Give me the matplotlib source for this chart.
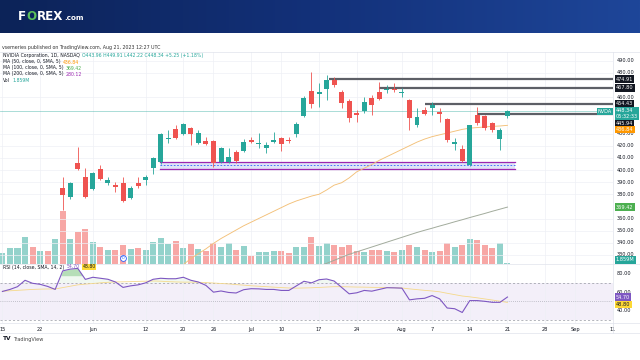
import matplotlib.pyplot as plt
from matplotlib import transforms
from matplotlib.colors import LinearSegmentedColormap
import numpy as np

W, H = 640, 360

# bar index 0 = 22 May 2023, one step per trading day
candle_start = 3
opens = [385.2, 377.7, 405.8, 394.2, 384.3, 400.8, 389.3, 387.6, 389.3, 376.9,
         389.3, 391.8, 401.7, 406.6, 425.6, 433.8, 429.7, 434.6, 422.3, 423.9,
         423.9, 406.6, 406.6, 414.8, 415.7, 424.7, 421.4, 418.1, 423.1, 426.4,
         424.7, 429.7, 444.5, 465.2, 462.7, 466.8, 474.2, 464.3, 456.9, 447.0,
         448.7, 459.4, 464.3, 466.0, 466.8, 463.5, 457.7, 437.1, 449.5, 451.1,
         447.8, 442.1, 421.4, 417.3, 404.1, 445.4, 444.5, 438.8, 425.6, 444.5]
highs = [394.2, 390.1, 419.0, 401.7, 398.4, 404.1, 394.2, 390.1, 394.2, 386.8,
         394.2, 395.9, 410.7, 430.5, 433.0, 437.1, 438.8, 435.5, 433.0, 427.2,
         424.7, 419.0, 418.1, 416.5, 425.6, 427.2, 430.5, 423.1, 431.3, 427.2,
         427.2, 439.6, 461.0, 480.8, 471.8, 478.4, 476.7, 466.0, 458.6, 449.5,
         460.2, 461.9, 472.6, 470.1, 471.8, 467.6, 458.6, 451.1, 452.0, 456.1,
         451.1, 442.9, 426.4, 420.6, 437.1, 452.0, 445.4, 439.6, 434.6, 449.5]
lows = [367.0, 376.1, 400.0, 376.9, 383.5, 391.8, 387.6, 381.9, 373.6, 376.1,
        385.2, 387.6, 396.7, 405.0, 422.3, 425.6, 428.9, 420.6, 421.4, 420.6,
        402.5, 405.8, 405.8, 405.8, 414.8, 422.3, 418.1, 414.0, 422.3, 415.7,
        422.3, 427.2, 443.7, 451.1, 452.0, 457.7, 468.5, 451.1, 439.6, 439.6,
        447.0, 445.4, 457.7, 463.5, 464.3, 460.2, 433.0, 435.5, 445.4, 445.4,
        439.6, 423.1, 416.5, 406.6, 403.3, 437.1, 433.0, 431.3, 416.5, 442.9]
closes = [379.4, 389.3, 400.8, 377.7, 397.5, 392.6, 391.8, 386.0, 374.4, 385.2,
          386.8, 394.2, 409.9, 429.7, 426.4, 426.4, 437.9, 429.7, 430.5, 421.4,
          405.8, 418.1, 410.7, 407.4, 423.1, 423.1, 422.3, 420.6, 424.7, 421.4,
          423.9, 437.9, 459.4, 454.4, 464.3, 474.2, 470.1, 455.3, 442.9, 445.4,
          456.1, 453.6, 458.6, 466.8, 466.0, 464.3, 442.9, 443.7, 446.2, 453.6,
          446.2, 424.7, 423.1, 407.4, 437.1, 438.8, 434.6, 433.0, 433.0, 448.34]

# volume (millions) and RSI start five bars earlier, under the visible candles
series_start = -5
volumes = [32, 47, 46, 77, 50, 39, 39, 73, 155, 73, 94, 102, 65, 50, 41, 41, 54, 44,
           46, 41, 63, 76, 59, 68, 47, 58, 44, 38, 62, 49, 61, 41, 53, 23, 35, 34,
           39, 38, 33, 50, 50, 79, 53, 60, 55, 48, 55, 38, 36, 40, 42, 38, 34, 40,
           55, 48, 41, 34, 38, 62, 50, 56, 72, 70, 54, 47, 62, 1.859]
early_up = [1, 1, 1, 1, 0, 1, 0, 1]
rsi = [60.8, 63, 66, 73, 69.7, 68.6, 66.3, 63, 83.3, 85.2, 86, 74, 76.3, 75.2, 74.1,
       71.1, 65.2, 66.9, 68, 70.2, 74.1, 75.2, 74.7, 74.7, 76.3, 73, 71.1, 67.4, 60,
       61.3, 59.7, 59.1, 62.7, 63.8, 63.6, 63, 63, 61.9, 61.9, 66.9, 71.9, 70.2, 73.6,
       74.4, 72.2, 65.2, 58.2, 59.3, 61.9, 61.1, 63, 64.9, 64.7, 64.4, 51.6, 52.7,
       53.3, 56.3, 52.7, 42.7, 41.9, 37.8, 50.8, 50.8, 50, 48.9, 48.9, 54.7]
rsi_ma = [61, 61.5, 62, 62.5, 63, 63.3, 63.5, 63.5, 65, 66.5, 68, 68.8, 69.5, 70.2,
          70.8, 71.2, 71.3, 71.5, 71.8, 72, 72.2, 72, 71.5, 71.2, 71, 71, 70.8, 70.5,
          70, 69.5, 69, 68.3, 67.7, 67, 66.5, 66, 65.5, 65, 64.6, 64.4, 64.6, 64.8,
          65.2, 65.6, 66, 66, 65.8, 65.6, 65.5, 65.3, 65.2, 65, 64.8, 64.6, 63.6, 62.8,
          62, 61.3, 60.4, 58.8, 57.3, 55.8, 54.9, 53.8, 52.6, 51.4, 50.1, 48.8]

ma50_start = 19
ma50 = [322, 327, 331, 335, 339.5, 343.5, 347, 350.5, 354, 357, 360, 363, 366, 369,
        372, 374.5, 376.5, 378.5, 380, 383.5, 387.5, 389.5, 393.5, 398.5, 401.5, 404.5,
        408, 411, 414, 417, 420, 423, 425.5, 427.5, 429, 430.5, 432, 433.5, 434.5,
        435, 435.5, 436, 436.3, 436.84]
ma100_start = 37
ma100 = [321, 323, 325.5, 328, 330.5, 332.5, 334.5, 336.5, 338.5, 340.5, 342.5,
         344.5, 346.5, 348.5, 350.3, 352, 353.8, 355.5, 357.3, 359, 360.8, 362.5,
         364.2, 366, 367.7, 369.42]

levels = [474.91, 467.80, 454.43, 445.94]
level_from = [38.3, 45, 51, 58]
zone_low, zone_high = 401.0, 407.0
zone_from, zone_to = 15.9, 63
dividend_bar = 11

tick_bars = [-5, 0, 7, 14, 19, 23, 28, 32, 37, 42, 48, 52, 57, 62, 67, 71, 76]
tick_labels = ['15', '22', 'Jun', '12', '20', '26', 'Jul', '10', '17', '24', 'Aug',
               '7', '14', '21', '28', 'Sep', '11']
price_ticks = [330, 340, 350, 360, 380, 390, 400, 410, 420, 430, 460, 480, 490]
rsi_ticks = [40, 60, 80]

UP, DN = '#26a69a', '#ef5350'
TXT = '#131722'
fs = 3.6


def fx(px):
    return px / W


def fy(py):
    return 1 - py / H


fig = plt.figure(figsize=(6.4, 3.6), dpi=100)
fig.patch.set_facecolor('white')
renderer = fig.canvas.get_renderer()


def chain(px, py, parts, size, gap=0.0, weight='normal'):
    # lay text pieces side by side, each starting where the previous ended
    x = px
    for s, col, bg in parts:
        kw = {}
        if bg:
            kw['bbox'] = dict(boxstyle='square,pad=0.12', fc=bg, ec='none')
        t = fig.text(fx(x), fy(py), s, fontsize=size, color=col, va='center',
                     fontweight=weight, **kw)
        x += t.get_window_extent(renderer).width + gap
    return x


# FOREX.com banner
ban = fig.add_axes([0, fy(33), 1, 33 / H])
cmap = LinearSegmentedColormap.from_list('ban', ['#0c2358', '#13317a', '#1e4699'])
ban.imshow(np.linspace(0, 1, 256)[None, :], aspect='auto', cmap=cmap, extent=[0, 1, 0, 1])
ban.set_axis_off()
end = chain(18, 17, [('F', 'white', None), ('O', '#5cc05a', None), ('REX', 'white', None)],
            8.6, gap=0.3, weight='bold')
chain(end + 1, 17.5, [('.com', 'white', None)], 5.2, weight='bold')

fig.text(fx(2), fy(47), 'vsemeries published on TradingView.com, Aug 21, 2023 12:27 UTC',
         fontsize=3.4, color='#333333', va='center')

# panes
main_rect = [0, fy(264), fx(613), (264 - 52) / H]
axv = fig.add_axes(main_rect)
ax = fig.add_axes(main_rect, sharex=axv)
ax.patch.set_alpha(0)
axr = fig.add_axes([0, fy(323), fx(613), (323 - 264) / H], sharex=axv)

xmin, xmax = -5.32, 76.0
n_all = len(volumes)
x_all = np.arange(series_start, series_start + n_all)
x_c = np.arange(candle_start, candle_start + len(opens))
o, h, l, c = map(np.array, (opens, highs, lows, closes))
up_c = c >= o

# volume
vol_up = np.concatenate([np.array(early_up, bool), up_c])
vcol = np.where(vol_up, '#93d2cb', '#f7a7a5')
axv.bar(x_all, volumes, width=0.8, color=vcol, zorder=1)
axv.set_ylim(0, 615)
axv.set_xlim(xmin, xmax)
axv.set_xticks(tick_bars)
axv.grid(axis='x', color='#eef0f5', lw=0.5)
axv.set_yticks([])
axv.tick_params(length=0, labelbottom=False)
for sp in axv.spines.values():
    sp.set_visible(False)

# price pane
ax.set_ylim(322.5, 497.3)
ax.set_yticks(price_ticks)
ax.grid(axis='y', color='#eef0f5', lw=0.5)
ax.tick_params(length=0, labelbottom=False, labelleft=False)
for sp in ax.spines.values():
    sp.set_visible(False)

ax.axhline(closes[-1], color=UP, lw=0.6, alpha=0.45, zorder=2)

zx = [zone_from, zone_to]
ax.fill_between(zx, zone_low, zone_high, color='#c3c9f0', alpha=0.5, lw=0, zorder=2)
ax.plot(zx, [zone_low] * 2, color='#9c27b0', lw=0.9, zorder=3)
ax.plot(zx, [zone_high] * 2, color='#9c27b0', lw=0.9, zorder=3)
ax.plot(zx, [(zone_low + zone_high) / 2] * 2, color='#2962ff', lw=0.6, ls=(0, (2, 2)), zorder=3)

ax.plot(np.arange(ma50_start, ma50_start + len(ma50)), ma50, color='#f3c078', lw=0.65, zorder=3)
ax.plot(np.arange(ma100_start, ma100_start + len(ma100)), ma100, color='#a2ab9c', lw=0.7, zorder=3)

for lv, x0 in zip(levels, level_from):
    ax.plot([x0, xmax], [lv, lv], color='#5d5f66', lw=1.6, solid_capstyle='butt', zorder=4)

ccol = np.where(up_c, UP, DN)
ax.vlines(x_c, l, h, colors=ccol, lw=0.6, zorder=5)
body = np.maximum(np.abs(c - o), 0.7)
ax.bar(x_c, body, bottom=np.minimum(o, c), width=0.66, color=ccol, zorder=6)

# dividend marker
ax.plot([dividend_bar], [0.028], transform=ax.get_xaxis_transform(), marker='o', ms=4.2,
        mfc='white', mec='#2962ff', mew=0.6, zorder=7)
ax.text(dividend_bar, 0.028, 'D', transform=ax.get_xaxis_transform(), fontsize=2.4,
        color='#2962ff', ha='center', va='center', zorder=8)

# right price scale
yt = ax.get_yaxis_transform()
for v in price_ticks:
    ax.text(1.0065, v, f'{v:.2f}', transform=yt, fontsize=fs, color=TXT, va='center', clip_on=False)


def tag(axis, val, text, bg, fg='white', dy=0):
    tr = transforms.offset_copy(axis.get_yaxis_transform(), fig=fig, y=dy, units='dots')
    axis.text(1.0045, val, text, transform=tr, fontsize=fs, color=fg, va='center', ha='left',
              clip_on=False, zorder=10,
              bbox=dict(boxstyle='square,pad=0.25', fc=bg, ec='none'))


for lv in levels[:3]:
    tag(ax, lv, f'{lv:.2f}', '#131722')
tag(ax, closes[-1], f'{closes[-1]:.2f}\n05:32:33', UP, dy=-2)
tag(ax, levels[3], f'{levels[3]:.2f}', '#131722', dy=-9)
tag(ax, ma50[-1], f'{ma50[-1]:.2f}', '#ff9800', dy=-4)
tag(ax, ma100[-1], f'{ma100[-1]:.2f}', '#4caf50')
ax.text(0.9985, closes[-1], 'NVDA', transform=yt, fontsize=fs, color='white', ha='right',
        va='center', zorder=10, bbox=dict(boxstyle='square,pad=0.25', fc=UP, ec='none'))
axv.text(1.0045, 12, '1.859M', transform=axv.get_yaxis_transform(), fontsize=fs, color='white',
         va='center', clip_on=False, bbox=dict(boxstyle='square,pad=0.25', fc=UP, ec='none'))

# legend rows
rows = [
    ('NVIDIA Corporation, 1D, NASDAQ', 'O443.96 H449.91 L442.22 C448.34 +5.25 (+1.18%)', UP),
    ('MA (50, close, 0, SMA, 5)', '436.84', '#ff9800'),
    ('MA (100, close, 0, SMA, 5)', '369.42', '#4caf50'),
    ('MA (200, close, 0, SMA, 5)', '280.12', '#9c27b0'),
    ('Vol', '1.859M', UP),
]
for k, (lab, val, col) in enumerate(rows):
    chain(3, 56 + 6 * k, [(lab, TXT, None), (val, col, None)], 3.3, gap=2.5)

# RSI pane
xr = np.arange(series_start, series_start + len(rsi))
r = np.array(rsi)
axr.axhspan(30, 70, color='#7e57c2', alpha=0.09, lw=0)
for lv, st in [(70, (0, (3, 3))), (50, (0, (1, 2))), (30, (0, (3, 3)))]:
    axr.axhline(lv, color='#9598a1', lw=0.5, ls=st)
axr.fill_between(xr, 70, r, where=r > 70, interpolate=True, color='#4caf50', alpha=0.08, lw=0)
axr.fill_between(xr, 78, r, where=r > 78, interpolate=True, color='#4caf50', alpha=0.35, lw=0)
axr.plot(xr, rsi_ma, color='#f5d98a', lw=0.6)
axr.plot(xr, r, color='#7e57c2', lw=0.8)
axr.set_ylim(26.3, 90.8)
axr.set_xlim(xmin, xmax)
axr.set_yticks([])
axr.set_xticks(tick_bars)
axr.set_xticklabels(tick_labels, fontsize=fs, color=TXT)
axr.tick_params(length=0, pad=3)
axr.grid(axis='x', color='#eef0f5', lw=0.5)
for sp in axr.spines.values():
    sp.set_visible(False)
yr = axr.get_yaxis_transform()
for v in rsi_ticks:
    axr.text(1.0065, v, f'{v:.2f}', transform=yr, fontsize=fs, color=TXT, va='center', clip_on=False)
tag(axr, rsi[-1], f'{rsi[-1]:.2f}', '#7e57c2')
tag(axr, rsi_ma[-1], f'{rsi_ma[-1]:.2f}', '#fdd835', fg=TXT, dy=-2)

chain(3, 267, [('RSI (14, close, SMA, 14, 2)', TXT, None), (f'{rsi[-1]:.2f}', '#7e57c2', None),
               (f'{rsi_ma[-1]:.2f}', TXT, '#fdd835')], 3.3, gap=2.5)

# frame lines
for py in (52, 264, 323):
    fig.add_artist(plt.Line2D([0, 1], [fy(py), fy(py)], color='#e0e3eb', lw=0.5))
fig.add_artist(plt.Line2D([fx(613), fx(613)], [fy(52), fy(333)], color='#e0e3eb', lw=0.5))
fig.add_artist(plt.Line2D([0, 1], [fy(333), fy(333)], color='#e0e3eb', lw=0.5))

chain(3, 339, [('TV', TXT, None)], 4.2, weight='bold')
fig.text(fx(13), fy(339), 'TradingView', fontsize=3.6, color='#444444', va='center')

fig.savefig('out.png', dpi=100, facecolor='white')
